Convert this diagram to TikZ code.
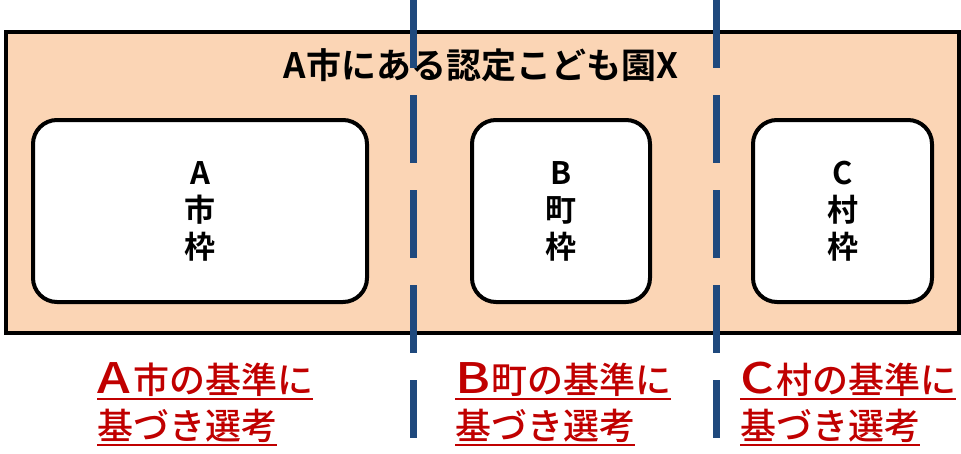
\documentclass[tikz,border=0pt]{standalone}
\usepackage{fontspec}
\usepackage{graphicx}
\newfontfamily\jp{Noto Sans CJK JP Medium}
\newfontfamily\jpb{Noto Sans CJK JP Bold}
\definecolor{peach}{HTML}{FBD5B5}
\definecolor{dashblue}{HTML}{1F497D}
\definecolor{redtxt}{HTML}{C00000}
\newcommand{\bigL}[1]{\makebox[36pt][l]{\scalebox{1.25}[1]{\fontsize{42}{40}\selectfont #1}}}
\tikzset{
  frame/.style={draw=black, line width=4pt, fill=peach, inner sep=0pt},
  waku/.style={draw=black, line width=4pt, fill=white, rounded corners=24pt, inner sep=0pt, minimum height=182pt},
  wakutxt/.style={font=\jpb\fontsize{31}{37}\selectfont, align=center, inner sep=0pt},
  boundary/.style={draw=dashblue, line width=7pt, dash pattern=on 68pt off 27pt},
  redlabel/.style={font=\jp\fontsize{36}{40}\selectfont, text=redtxt, inner sep=0pt, anchor=base west},
  uline/.style={draw=redtxt, line width=2pt}
}
\begin{document}
\begin{tikzpicture}[x=1pt,y=-1pt]
\useasboundingbox (0,0) rectangle (961,453);
\node[frame, minimum width=953pt, minimum height=301pt, anchor=north west] (outer) at (4,30) {};
\node[font=\jpb\fontsize{35}{40}\selectfont, inner sep=0pt, anchor=base] (title) at (481,78) {A市にある認定こども園X};
\node[waku, minimum width=334pt] (boxA) at (200,211) {};
\node[waku, minimum width=178pt] (boxB) at (561,211) {};
\node[waku, minimum width=179pt] (boxC) at (842.5,211) {};
\node[wakutxt] (tA) at (boxA.center) {A\\市\\枠};
\node[wakutxt] (tB) at (boxB.center) {B\\町\\枠};
\node[wakutxt] (tC) at (boxC.center) {C\\村\\枠};
\coordinate (d1top) at (413,0);
\coordinate (d1bot) at (413,438);
\coordinate (d2top) at (716,0);
\coordinate (d2bot) at (716,438);
\draw[boundary] (d1top) -- (d1bot);
\draw[boundary] (d2top) -- (d2bot);
\node[redlabel] (a1) at (97,393) {\bigL{A}市の基準に};
\node[redlabel] (a2) at (97,439) {基づき選考};
\node[redlabel] (b1) at (455,393) {\bigL{B}町の基準に};
\node[redlabel] (b2) at (455,439) {基づき選考};
\node[redlabel] (c1) at (740,393) {\bigL{C}村の基準に};
\node[redlabel] (c2) at (740,439) {基づき選考};
\foreach \n in {a1,a2,b1,b2,c1,c2}{
  \draw[uline] ([yshift=-6pt]\n.base west) -- ([yshift=-6pt]\n.base east);
}
\end{tikzpicture}
\end{document}
